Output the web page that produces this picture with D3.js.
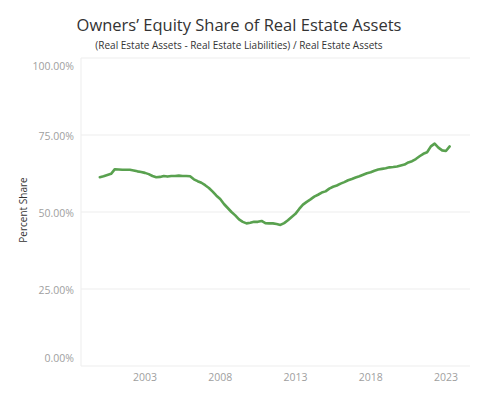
<!DOCTYPE html>
<html>
<head>
<meta charset="utf-8">
<script src="https://cdn.jsdelivr.net/npm/d3@7"></script>
<style>
  body { margin: 0; background: #fff; }
  text { font-family: "Open Sans", "Noto Sans", sans-serif; }
</style>
</head>
<body>
<div id="chart"></div>
<script>
// quarterly series, 2000 Q1 .. 2023 Q2
var startYear = 2000;
var shareValues = [
  61.3, 61.6, 62.0, 62.4,
  63.9, 63.8, 63.7, 63.7,
  63.7, 63.5, 63.2, 63.0,
  62.7, 62.3, 61.7, 61.3,
  61.4, 61.7, 61.5, 61.7,
  61.7, 61.8, 61.7, 61.7,
  61.6, 60.6, 60.0, 59.5,
  58.7, 57.8, 56.6, 55.3,
  54.2, 52.6, 51.3, 50.0,
  48.9, 47.6, 46.8, 46.3,
  46.5, 46.8, 46.8, 47.1,
  46.4, 46.3, 46.3, 46.1,
  45.8, 46.4, 47.3, 48.4,
  49.4, 51.0, 52.4, 53.3,
  54.1, 55.0, 55.6, 56.3,
  56.7, 57.6, 58.2, 58.6,
  59.2, 59.7, 60.3, 60.7,
  61.2, 61.6, 62.1, 62.6,
  62.9, 63.4, 63.8, 64.0,
  64.2, 64.5, 64.6, 64.8,
  65.1, 65.4, 66.1, 66.5,
  67.2, 68.1, 68.9, 69.4,
  71.3, 72.2, 70.9, 70.0,
  69.8, 71.3
];
var yearTicks = [2003, 2008, 2013, 2018, 2023];
var shareTicks = [0, 25, 50, 75, 100];

var data = shareValues.map(function(v, i) {
  return {t: startYear + i / 4, value: v};
});

var width = 477, height = 397;
var margin = {top: 58, right: 7, bottom: 31, left: 81};

var svg = d3.select("#chart")
    .append("svg")
    .attr("width", width)
    .attr("height", height);

var x = d3.scaleLinear()
    .domain([1998.75, 2024.6])
    .range([margin.left, width - margin.right]);

var y = d3.scaleLinear()
    .domain([0, 100])
    .range([height - margin.bottom, margin.top]);

// gridlines
svg.append("g")
    .selectAll("line")
    .data(shareTicks)
    .enter()
    .append("line")
    .attr("x1", margin.left)
    .attr("x2", width - margin.right)
    .attr("y1", function(d) { return y(d); })
    .attr("y2", function(d) { return y(d); })
    .attr("stroke", "#ededed")
    .attr("stroke-width", 1);

// left axis rule
svg.append("line")
    .attr("x1", margin.left)
    .attr("x2", margin.left)
    .attr("y1", y(100))
    .attr("y2", y(0))
    .attr("stroke", "#ededed");

// y tick labels (Tableau nudges the end labels inward)
svg.append("g")
    .selectAll("text")
    .data(shareTicks)
    .enter()
    .append("text")
    .attr("x", 74)
    .attr("y", function(d) {
      var off = d === 100 ? 8 : (d === 0 ? -8 : 1);
      return y(d) + off;
    })
    .attr("dy", "0.35em")
    .attr("text-anchor", "end")
    .style("font-size", "10.5px")
    .style("fill", "#a0a0a0")
    .text(function(d) { return d3.format(".2f")(d) + "%"; });

// x tick labels
svg.append("g")
    .selectAll("text")
    .data(yearTicks)
    .enter()
    .append("text")
    .attr("x", function(d) { return x(d); })
    .attr("y", 377)
    .attr("dy", "0.35em")
    .attr("text-anchor", "middle")
    .style("font-size", "10.5px")
    .style("fill", "#a0a0a0")
    .text(function(d) { return d; });

// the line
var line = d3.line()
    .x(function(d) { return x(d.t); })
    .y(function(d) { return y(d.value); });

svg.append("path")
    .datum(data)
    .attr("fill", "none")
    .attr("stroke", "#59a14f")
    .attr("stroke-width", 2.6)
    .attr("stroke-linejoin", "round")
    .attr("stroke-linecap", "round")
    .attr("d", line);

// y axis title
svg.append("text")
    .attr("transform", "translate(23," + 210 + ") rotate(-90)")
    .attr("text-anchor", "middle")
    .attr("dy", "0.35em")
    .style("font-size", "10px")
    .style("fill", "#333")
    .text("Percent Share");

// title + subtitle
svg.append("text")
    .attr("x", 239)
    .attr("y", 25)
    .attr("dy", "0.35em")
    .attr("text-anchor", "middle")
    .style("font-size", "16.5px")
    .style("fill", "#333")
    .text("Owners\u2019 Equity Share of Real Estate Assets");

svg.append("text")
    .attr("x", 239)
    .attr("y", 45)
    .attr("dy", "0.35em")
    .attr("text-anchor", "middle")
    .style("font-size", "10px")
    .style("fill", "#333")
    .text("(Real Estate Assets - Real Estate Liabilities) / Real Estate Assets");
</script>
</body>
</html>
